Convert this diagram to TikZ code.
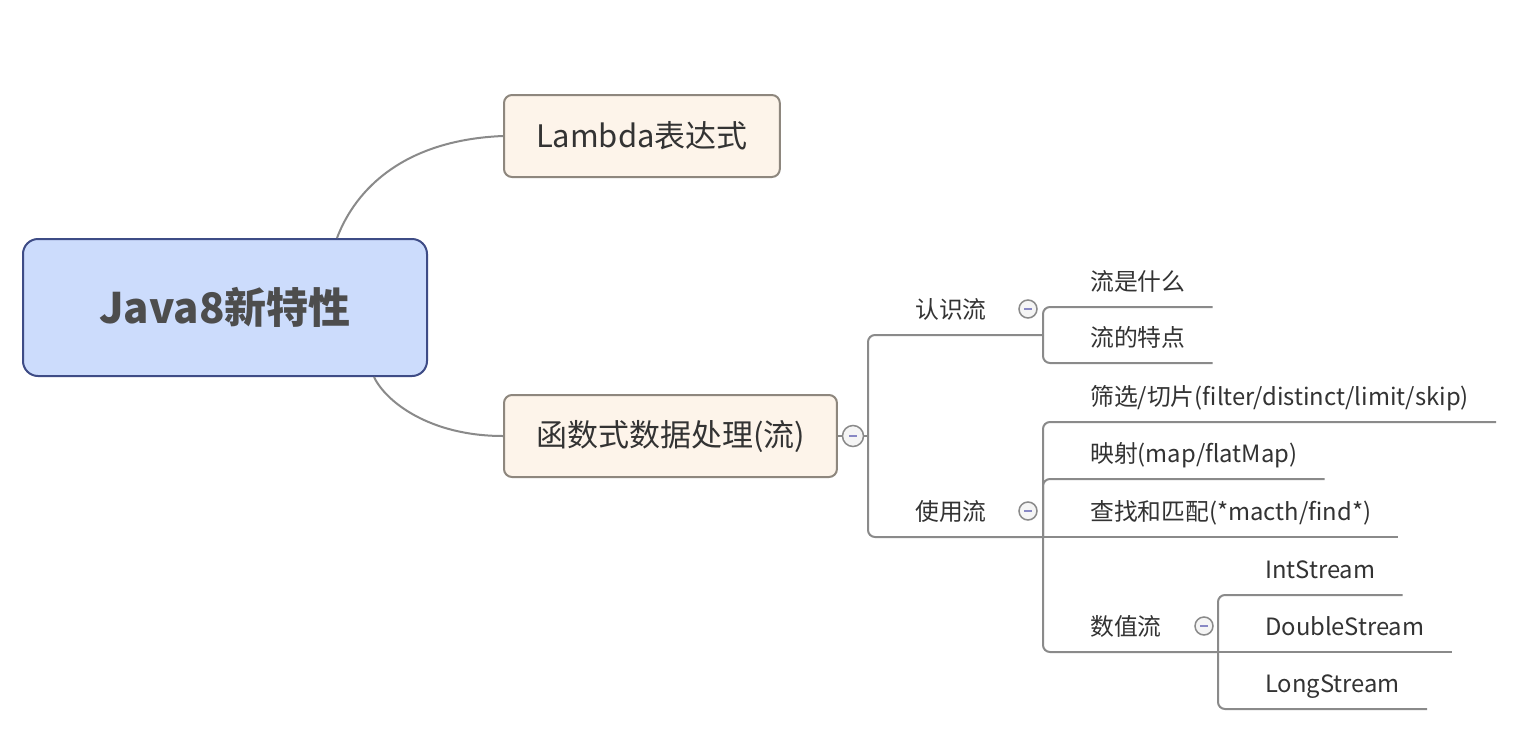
\documentclass[tikz,border=0pt]{standalone}
\usepackage{fontspec}
\setmainfont{Noto Sans CJK SC}
\usepackage{tikz}
\usetikzlibrary{positioning,calc}
\definecolor{rootfill}{RGB}{204,220,252}
\definecolor{rootline}{RGB}{62,76,134}
\definecolor{rootink}{RGB}{77,77,77}
\definecolor{topicfill}{RGB}{253,244,234}
\definecolor{topicline}{RGB}{142,135,126}
\definecolor{branchgray}{RGB}{138,138,138}
\definecolor{foldminus}{RGB}{136,136,196}
\definecolor{inkgray}{RGB}{51,51,51}
\tikzset{
  rootbox/.style={draw=rootline, fill=rootfill, line width=2pt, rounded corners=15pt,
                  minimum width=404pt, minimum height=137pt, text=rootink,
                  font=\fontsize{42}{50}\selectfont\bfseries},
  topicbox/.style={draw=topicline, fill=topicfill, line width=2pt, rounded corners=8pt,
                   minimum height=82pt, inner xsep=32pt, anchor=west, text=inkgray,
                   font=\fontsize{31}{37}\selectfont},
  sublabel/.style={anchor=south west, inner xsep=27pt, inner ysep=0pt, text depth=16pt,
                   text=inkgray, font=\fontsize{23.8}{28}\selectfont},
  fold/.style={circle, draw=branchgray, fill=black!4, line width=1.5pt, inner sep=0pt,
               minimum size=#1,
               path picture={\draw[foldminus, line width=2pt]
                 ([xshift=-4pt]path picture bounding box.center) --
                 ([xshift=4pt]path picture bounding box.center);}},
  fold/.default=18pt,
  branch/.style={draw=branchgray, line width=2pt, rounded corners=7pt},
}
\begin{document}
\begin{tikzpicture}[x=1pt, y=-1pt]
  \fill[white] (0,0) rectangle (1532,750);
  \useasboundingbox (0,0) rectangle (1532,750);

  \node[rootbox]  (root)   at (225,307.5) {Java8新特性};
  \node[topicbox] (lambda) at (503,136)   {Lambda表达式};
  \node[topicbox] (fn)     at (503,436)   {函数式数据处理(流)};

  \node[fold=21pt] (f0) at (853,436) {};
  \coordinate (s0) at (868,436);

  \node[sublabel] (know) at (888,335) {认识流};
  \node[sublabel] (use)  at (888,537) {使用流};
  \node[fold]     (f1)   at (1028,309) {};
  \node[fold]     (f2)   at (1028,511) {};
  \coordinate (j1) at (1043,335);
  \coordinate (j2) at (1043,537);

  \node[sublabel] (what)    at (1063,307) {流是什么};
  \node[sublabel] (feature) at (1063,363) {流的特点};
  \node[sublabel] (filter)  at (1063,422) {筛选/切片(filter/distinct/limit/skip)};
  \node[sublabel] (mapping) at (1063,479) {映射(map/flatMap)};
  \node[sublabel] (find)    at (1063,537) {查找和匹配(*macth/find*)};
  \node[sublabel] (numeric) at (1063,652) {数值流};
  \node[fold]     (f3)      at (1204,626) {};
  \coordinate (j3) at (1218,652);

  \node[sublabel] (intst)    at (1238,595) {IntStream};
  \node[sublabel] (doublest) at (1238,652) {DoubleStream};
  \node[sublabel] (longst)   at (1238,709) {LongStream};

  \draw[branch] ([xshift=112pt]root.north) .. controls (356,188) and (405,140) .. (lambda.west);
  \draw[branch] ([xshift=149pt]root.south) .. controls (386,402) and (430,436) .. (fn.west);
  \draw[branch] (fn) -- (f0);
  \draw[branch] (f0) -- (s0);
  \draw[branch] (s0) |- (j1);
  \draw[branch] (s0) |- (j2);
  \draw[branch] (j1) |- (what.south east);
  \draw[branch] (j1) |- (feature.south east);
  \draw[branch] (j2) |- (filter.south east);
  \draw[branch] (j2) |- (mapping.south east);
  \draw[branch] (j2) -- (find.south east);
  \draw[branch] (j2) |- (j3);
  \draw[branch] (j3) |- (intst.south east);
  \draw[branch] (j3) -- (doublest.south east);
  \draw[branch] (j3) |- (longst.south east);
\end{tikzpicture}
\end{document}
